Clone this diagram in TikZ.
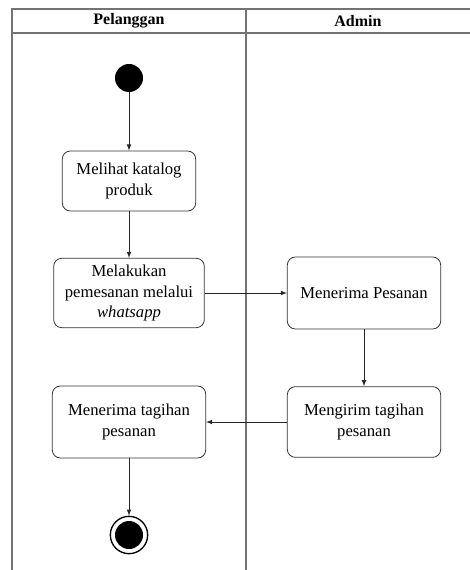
\documentclass[tikz,border=0pt]{standalone}
\usepackage{fontspec}
\setmainfont{Liberation Serif}
\usetikzlibrary{arrows,positioning}

\begin{document}
\begin{tikzpicture}[x=0.75pt,y=-0.75pt,
    act/.style={draw=black!80,line width=0.6pt,rounded corners=6pt,align=center,
        font=\fontsize{12.5}{15.5}\selectfont,inner sep=2pt},
    flow/.style={draw=black!85,line width=0.6pt,-latex}]
\useasboundingbox (0,0) rectangle (470,570);
% lanes
\draw [black!55,line width=1.3pt] (12,570) -- (12,9) -- (470,9);
\draw [black!55,line width=1.3pt] (12,33) -- (470,33);
\draw [black!55,line width=1.3pt] (246,9) -- (246,570);
\node [font=\bfseries\fontsize{12}{14}\selectfont] (lanea) at (129,21) {Pelanggan};
\node [font=\bfseries\fontsize{12}{14}\selectfont] (laneb) at (358,21) {Admin};
% activities
\node [circle,fill=black,minimum size=21pt,inner sep=0] (start) at (129,78) {};
\node [act,minimum width=100pt,minimum height=45pt] (lihat) at (129,181) {Melihat katalog\\produk};
\node [act,minimum width=113pt,minimum height=52pt] (pesan) at (129,293) {Melakukan\\pemesanan melalui\\\textit{whatsapp}};
\node [act,minimum width=115pt,minimum height=54pt] (terima) at (364,293) {Menerima Pesanan};
\node [act,minimum width=115pt,minimum height=53pt] (kirim) at (364,422) {Mengirim tagihan\\pesanan};
\node [act,minimum width=115pt,minimum height=54pt] (tagihan) at (129,422) {Menerima tagihan\\pesanan};
\node [circle,draw=black,line width=1pt,fill=white,minimum size=28pt,inner sep=0] (end) at (129,535) {};
\node [circle,fill=black,minimum size=21pt,inner sep=0] (endin) at (end) {};
% flows
\draw [flow] (start) -- (lihat);
\draw [flow] (lihat) -- (pesan);
\draw [flow] (pesan) -- (terima);
\draw [flow] (terima) -- (kirim);
\draw [flow] (kirim) -- (tagihan);
\draw [flow] (tagihan) -- (end);
\end{tikzpicture}
\end{document}
